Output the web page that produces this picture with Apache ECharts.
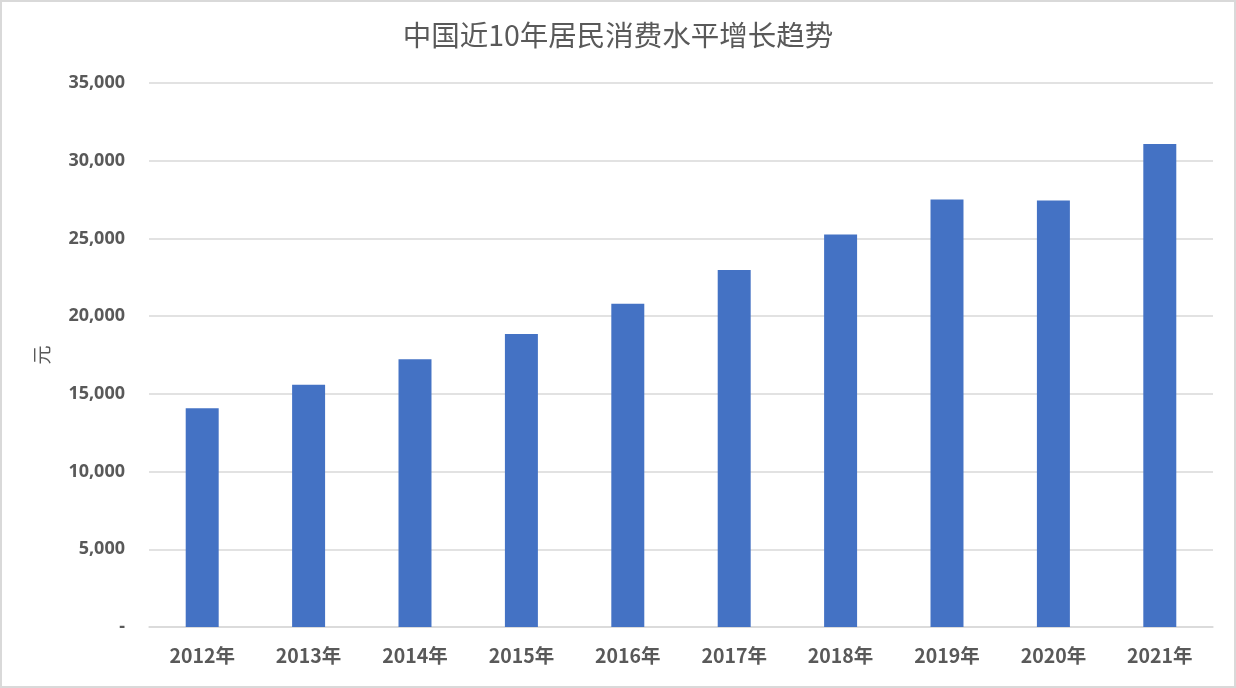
<!DOCTYPE html>
<html><head><meta charset="utf-8">
<script src="https://cdn.jsdelivr.net/npm/echarts@6/dist/echarts.min.js"></script>
<style>html,body{margin:0;padding:0;background:#fff}#c{width:1236px;height:688px;box-sizing:border-box;border:2px solid #d9d9d9}</style>
</head><body><div id="c"></div>
<script>
const categories = ['2012年','2013年','2014年','2015年','2016年','2017年','2018年','2019年','2020年','2021年'];
const values = [14074,15586,17220,18857,20801,22969,25245,27504,27439,31072];
const titleText = '中国近10年居民消费水平增长趋势';
const yName = '元';
const chart = echarts.init(document.getElementById('c'));
chart.setOption({
  animation:false,
  title:{text:titleText,left:'center',top:14,textStyle:{fontFamily:'Noto Sans CJK SC',fontSize:28.5,fontWeight:'normal',color:'#595959'}},
  grid:{left:147,right:21,top:81,bottom:59},
  xAxis:{type:'category',data:categories,axisTick:{show:false},
    axisLine:{lineStyle:{color:'#d9d9d9',width:1.5}},
    axisLabel:{margin:19,fontFamily:'Noto Sans CJK SC',fontSize:19.5,fontWeight:'bold',color:'#595959'}},
  yAxis:{type:'value',min:0,max:35000,interval:5000,name:yName,nameLocation:'middle',nameGap:98,nameRotate:90,
    nameTextStyle:{fontFamily:'Noto Sans CJK SC',fontSize:19,color:'#595959'},
    axisLine:{show:false},axisTick:{show:false},
    splitLine:{lineStyle:{color:'#d9d9d9',width:1.5}},
    axisLabel:{margin:24,fontFamily:'Noto Sans',fontSize:18,fontWeight:'bold',color:'#595959',
      formatter:v=>v===0?'-':v.toLocaleString('en-US')}},
  series:[{type:'bar',data:values,barWidth:'31%',itemStyle:{color:'#4472c4'}}]
});
</script></body></html>
